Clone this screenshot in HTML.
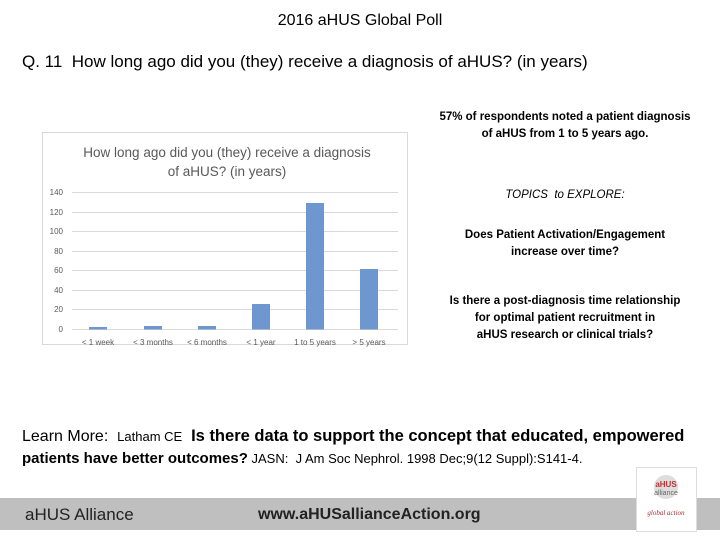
<!DOCTYPE html>
<html><head><style>
body{margin:0;width:720px;height:540px;background:#fff;position:relative;font-family:"Liberation Sans",sans-serif;overflow:hidden}
.a{position:absolute;white-space:nowrap}
</style></head><body>
<div class="a" style="left:0;width:720px;top:12px;text-align:center;font-size:16px">2016 aHUS Global Poll</div>
<div class="a" style="left:22px;top:52px;font-size:17px">Q. 11&nbsp; How long ago did you (they) receive a diagnosis of aHUS? (in years)</div>
<div class="a" style="left:410px;width:310px;top:109px;text-align:center;font-size:11.5px;font-weight:bold;line-height:17px">57% of respondents noted a patient diagnosis<br>of aHUS from 1 to 5 years ago.</div>
<div class="a" style="left:410px;width:310px;top:189px;text-align:center;font-size:11.5px;font-style:italic">TOPICS&nbsp; to EXPLORE:</div>
<div class="a" style="left:410px;width:310px;top:227px;text-align:center;font-size:11.5px;font-weight:bold;line-height:17px">Does Patient Activation/Engagement<br>increase over time?</div>
<div class="a" style="left:410px;width:310px;top:293px;text-align:center;font-size:11.5px;font-weight:bold;line-height:17px">Is there a post-diagnosis time relationship<br>for optimal patient recruitment in<br>aHUS research or clinical trials?</div>
<svg class="a" style="left:0;top:0" width="720" height="540">
<rect x="42.5" y="132.5" width="365" height="212" fill="#fff" stroke="#d9d9d9"/>
<text x="227" y="157" font-size="13.5" text-anchor="middle" fill="#595959" font-family="Liberation Sans">How long ago did you (they) receive a diagnosis</text>
<text x="227" y="176" font-size="13.5" text-anchor="middle" fill="#595959" font-family="Liberation Sans">of aHUS? (in years)</text>
<g stroke="#d9d9d9" stroke-width="1">
<line x1="72" x2="398" y1="192.5" y2="192.5"/><line x1="72" x2="398" y1="212.5" y2="212.5"/>
<line x1="72" x2="398" y1="231.5" y2="231.5"/><line x1="72" x2="398" y1="251.5" y2="251.5"/>
<line x1="72" x2="398" y1="270.5" y2="270.5"/><line x1="72" x2="398" y1="290.5" y2="290.5"/>
<line x1="72" x2="398" y1="309.5" y2="309.5"/><line x1="72" x2="398" y1="329.5" y2="329.5"/>
</g>
<g font-size="8" fill="#595959" font-family="Liberation Sans" text-anchor="end">
<text x="63" y="195">140</text><text x="63" y="215">120</text><text x="63" y="234">100</text>
<text x="63" y="254">80</text><text x="63" y="273">60</text><text x="63" y="293">40</text>
<text x="63" y="312">20</text><text x="63" y="332">0</text>
</g>
<g fill="#6f97cf">
<rect x="89" y="327" width="18" height="2.5"/><rect x="144" y="326" width="18" height="3.5"/>
<rect x="198" y="326" width="18" height="3.5"/><rect x="252" y="304" width="18" height="25.5"/>
<rect x="306" y="203" width="18" height="126.5"/><rect x="360" y="269" width="18" height="60.5"/>
</g>
<g font-size="8" fill="#595959" font-family="Liberation Sans" text-anchor="middle">
<text x="98" y="345">&lt; 1 week</text><text x="153" y="345">&lt; 3 months</text><text x="207" y="345">&lt; 6 months</text>
<text x="261" y="345">&lt; 1 year</text><text x="315" y="345">1 to 5 years</text><text x="369" y="345">&gt; 5 years</text>
</g>
<rect x="0" y="498" width="720" height="32" fill="#bfbfbf"/>
<rect x="636.5" y="467.5" width="60" height="64" fill="#fff" stroke="#ddd"/>
<circle cx="666" cy="487" r="12" fill="#ddd"/>
<text x="666" y="487" font-size="8" fill="#b33" text-anchor="middle" font-family="Liberation Sans" font-weight="bold">aHUS</text>
<text x="666" y="495" font-size="7" fill="#666" text-anchor="middle" font-family="Liberation Sans">alliance</text>
<text x="666" y="515" font-size="7" fill="#a33" text-anchor="middle" font-family="Liberation Serif" font-style="italic">global action</text>
</svg>
<div class="a" style="left:22px;top:427px;font-size:16px">Learn More:&nbsp; <span style="font-size:13px">Latham CE</span>&nbsp; <b style="font-size:16.5px">Is there data to support the concept that educated, empowered</b></div>
<div class="a" style="left:22px;top:450px;font-size:13px"><b style="font-size:15px">patients have better outcomes?</b> JASN:&nbsp; J Am Soc Nephrol. 1998 Dec;9(12 Suppl):S141-4.</div>
<div class="a" style="left:25px;top:505px;font-size:17px;color:#222">aHUS Alliance</div>
<div class="a" style="left:258px;top:506px;font-size:16px;font-weight:bold;color:#222">www.aHUSallianceAction.org</div>
</body></html>
